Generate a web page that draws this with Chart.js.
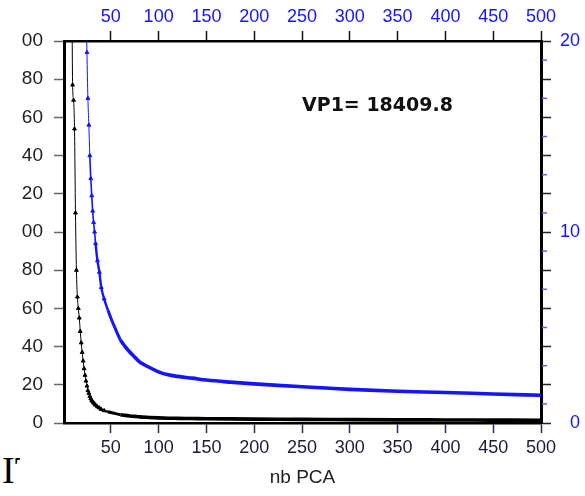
<!DOCTYPE html>
<html>
<head>
<meta charset="utf-8">
<script src="https://cdn.jsdelivr.net/npm/chart.js@4"></script>
<style>
  html, body { margin: 0; padding: 0; background: #fff; }
  #wrap { position: relative; width: 585px; height: 496px; overflow: hidden; background: #fff; }
  #c { position: absolute; left: 21px; top: 0; }
  #vp { position: absolute; left: 302px; top: 93px; font: bold 19px/22px 'DejaVu Sans', sans-serif; color: #111; white-space: nowrap; }
  #cut { position: absolute; left: 2px; top: 451px; width: 18px; height: 38px; overflow: hidden; font: 38px/38px 'Liberation Serif', serif; color: #000; white-space: nowrap; }
</style>
</head>
<body>
<div id="wrap">
  <canvas id="c" width="564" height="496"></canvas>
  <div id="vp">VP1= 18409.8</div>
  <div id="cut">IT</div>
</div>
<script>
// ---- data ----
const nbPCA = [1,2,3,4,5,6,7,8,9,10,11,12,13,14,15,16,17,18,19,20,21,22,23,24,25,26,27,28,29,30,31,32,33,34,
               36,38,40,43,47,50,55,60,65,70,75,80,90,100,110,120,135,150,175,200,225,250,275,300,350,400,450,500];
const eigenvalues = [18409.8,2400,1300,850,600,450,360,300,250,
                     177,169,154,110,80,66,60,55,48,42,
                     37,32.5,28.5,25,22,19.4,17,15.6,14.0,12.8,
                     11.9,11.1,10.5,10.0,9.4,
                     8.5,7.9,7.1,6.5,5.9,5.5,
                     4.9,4.35,4.0,3.7,3.45,3.2,
                     2.92,2.68,2.52,2.44,2.35,2.25,
                     2.14,2.05,1.97,1.9,1.83,1.76,
                     1.66,1.6,1.52,1.45];
const xTicks = [50,100,150,200,250,300,350,400,450,500];
const leftTicks = [0,20,40,60,80,100,120,140,160,180,200];
const rightTicks = [0,2,4,6,8,10,12,14,16,18,20];
const rightLabels = [0,10,20];
const rightMinorTicks = [1,3,5,7,9,11,13,15,17,19];
const xTitle = 'nb PCA';

const blackPts = nbPCA.map((x, i) => ({ x: x, y: eigenvalues[i] }));
const bluePts = nbPCA.map((x, i) => ({ x: x, y: eigenvalues[i] }));

const FONT = "'Liberation Sans', Arial, sans-serif";
const BLUE = '#1414ff';

const segW = ctx => {
  const x = ctx.p0.parsed.x;
  if (x >= 60) return 3.6;
  if (x >= 45) return 3;
  if (x >= 34) return 2.4;
  if (x >= 28) return 1.6;
  return 1;
};
const ptR = ctx => (ctx.raw && ctx.raw.x < 45) ? 2.2 : 0;

const minorTicks = {
  id: 'minorTicks',
  afterDraw(chart) {
    const s = chart.scales.y2;
    const ctx = chart.ctx;
    ctx.save();
    ctx.strokeStyle = '#5a5aff';
    ctx.lineWidth = 1.5;
    rightMinorTicks.forEach(v => {
      const y = s.getPixelForValue(v);
      ctx.beginPath();
      ctx.moveTo(chart.chartArea.right + 1, y);
      ctx.lineTo(chart.chartArea.right + 6, y);
      ctx.stroke();
    });
    ctx.restore();
  }
};

new Chart(document.getElementById('c'), {
  type: 'line',
  data: {
    datasets: [
      {
        data: blackPts, xAxisID: 'x', yAxisID: 'y',
        borderColor: '#000', backgroundColor: '#000',
        borderWidth: 1, pointStyle: 'triangle', pointRadius: ptR, pointBorderWidth: 1,
        segment: { borderWidth: segW }, cubicInterpolationMode: 'monotone'
      },
      {
        data: bluePts, xAxisID: 'x2', yAxisID: 'y2',
        borderColor: BLUE, backgroundColor: BLUE,
        borderWidth: 1, pointStyle: 'triangle', pointRadius: ptR, pointBorderWidth: 1,
        segment: { borderWidth: segW }, cubicInterpolationMode: 'monotone'
      }
    ]
  },
  options: {
    responsive: false,
    animation: false,
    devicePixelRatio: 1,
    layout: { padding: { left: 0, right: 5, top: 0, bottom: 0 } },
    plugins: { legend: { display: false }, tooltip: { enabled: false } },
    scales: {
      x: {
        type: 'linear', position: 'bottom', min: 1, max: 500,
        afterBuildTicks: s => { s.ticks = xTicks.map(v => ({ value: v })); },
        afterFit: s => { s.height = 73; },
        grid: { drawOnChartArea: false, drawTicks: true, tickLength: 10, tickColor: '#2a2a5a', tickWidth: 1.5 },
        border: { display: true, color: '#000', width: 2.5 },
        ticks: { color: '#1c1c38', font: { family: FONT, size: 18 }, padding: 4, autoSkip: false, maxRotation: 0, callback: v => String(v) },
        title: { display: true, text: xTitle, color: '#222', font: { family: FONT, size: 19 }, padding: { top: 0, bottom: 7 } }
      },
      x2: {
        type: 'linear', position: 'top', min: 1, max: 500,
        afterBuildTicks: s => { s.ticks = xTicks.map(v => ({ value: v })); },
        afterFit: s => { s.height = 41; },
        grid: { drawOnChartArea: false, drawTicks: true, tickLength: 10, tickColor: '#111', tickWidth: 1.5 },
        border: { display: true, color: '#000', width: 2.5 },
        ticks: { color: BLUE, font: { family: FONT, size: 18 }, padding: 3, autoSkip: false, maxRotation: 0, callback: v => String(v) }
      },
      y: {
        type: 'linear', position: 'left', min: 0, max: 200,
        afterBuildTicks: s => { s.ticks = leftTicks.map(v => ({ value: v })); },
        afterFit: s => { s.width = 43; },
        grid: { drawOnChartArea: false, drawTicks: true, tickLength: 10, tickColor: '#666', tickWidth: 1.5 },
        border: { display: true, color: '#000', width: 3 },
        ticks: { color: '#222', font: { family: FONT, size: 19 }, padding: 11, callback: v => String(v) }
      },
      y2: {
        type: 'linear', position: 'right', min: 0, max: 20,
        afterBuildTicks: s => { s.ticks = rightTicks.map(v => ({ value: v })); },
        afterFit: s => { s.width = 39; },
        grid: { drawOnChartArea: false, drawTicks: true, tickLength: 10, tickColor: '#222', tickWidth: 1.5 },
        border: { display: true, color: '#000', width: 3 },
        ticks: { color: BLUE, font: { family: FONT, size: 18 }, crossAlign: 'far', padding: 4,
                 callback: v => rightLabels.includes(v) ? String(v) : '' }
      }
    }
  },
  plugins: [minorTicks]
});
</script>
</body>
</html>
